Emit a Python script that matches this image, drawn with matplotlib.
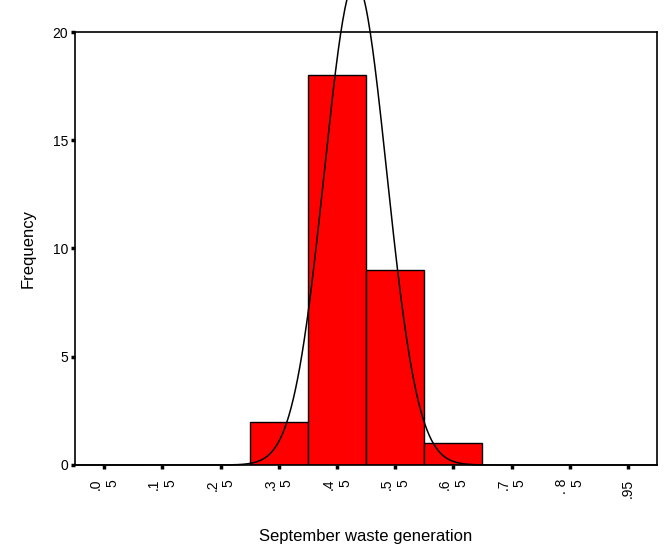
# Histogram - September waste generation
#
import numpy as np
import matplotlib
matplotlib.use('Agg')
import matplotlib.pyplot as plt

plt.rcParams['font.family'] = ['Liberation Sans', 'DejaVu Sans']

# Data
binLeft = [0.3, 0.4, 0.5, 0.6]
binCount = [2, 18, 9, 1]
binWidth = 0.1
fitMean = 0.482
fitStd = 0.0536
tickPos = [0.05, 0.15, 0.25, 0.35, 0.45, 0.55, 0.65, 0.75, 0.85, 0.95]
tickLab = ['.0\n5', '.1\n5', '.2\n5', '.3\n5', '.4\n5', '.5\n5', '.6\n5',
           '.7\n5', '. 8\n5', '.95']

nTotal = sum(binCount)

fig = plt.figure(figsize=(6.67, 5.54), dpi=100)
ax = fig.add_axes([75/667, 89/554, 582/667, 433/554])

ax.bar(binLeft, binCount, width=binWidth, align='edge', color='#ff0000',
       edgecolor='black', linewidth=1.0, zorder=2)

# normal curve scaled to counts
xs = np.linspace(0.0, 1.0, 801)
ys = nTotal*binWidth*np.exp(-0.5*((xs-fitMean)/fitStd)**2)/(fitStd*np.sqrt(2*np.pi))
ax.plot(xs, ys, color='black', linewidth=1.1, clip_on=False, zorder=3)

ax.set_xlim([0, 1.0])
ax.set_ylim([0, 20])
ax.set_yticks([0, 5, 10, 15, 20])
ax.set_xticks(tickPos)
ax.set_xticklabels(tickLab, rotation=90, va='top')
for t in ax.get_xticklabels():
    t.set_multialignment('right')
ax.tick_params(axis='both', direction='out', length=3, width=2.5,
               labelsize=10, color='black')
ax.tick_params(axis='x', pad=7)
ax.tick_params(axis='y', pad=2)
for s in ax.spines.values():
    s.set_linewidth(1.2)

ax.set_ylabel('Frequency', fontsize=12, labelpad=12)
ax.set_xlabel('September waste generation', fontsize=12, labelpad=22)

plt.savefig('out.png', dpi=100)
